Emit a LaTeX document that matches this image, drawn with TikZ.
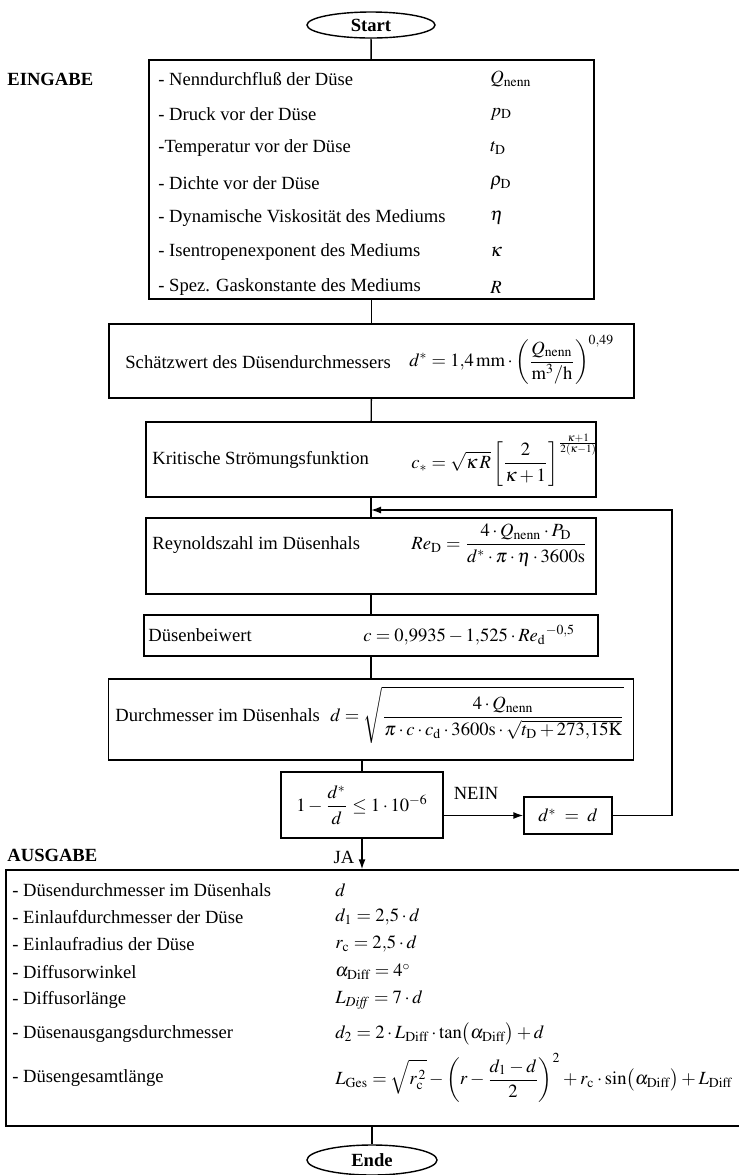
\documentclass[tikz,border=0pt]{standalone}
\usepackage{amsmath}
\usepackage{mathptmx}
\usepackage{fontspec}
\setmainfont{Liberation Serif}
\usetikzlibrary{shapes.geometric,arrows.meta}
\medmuskip=2.5mu plus 1mu minus 1mu
\thickmuskip=4mu plus 2mu

\begin{document}
\begin{tikzpicture}[x=0.5pt,y=-0.5pt,
    every node/.style={font=\fontsize{9.3}{11}\selectfont},
    box/.style={draw,line width=0.7pt,inner sep=0pt},
    term/.style={draw,ellipse,line width=0.7pt,inner sep=0pt,font=\fontsize{9.3}{11}\selectfont\bfseries},
    txt/.style={anchor=west,inner sep=0pt},
    link/.style={line width=0.7pt},
    tip/.style={-{Latex[length=5pt,width=3.5pt]}}]
  \useasboundingbox (0,0) rectangle (739,1175);

  \node[term,minimum width=64pt,minimum height=13pt] at (371,25) (start) {Start};

  % Eingabe
  \node[txt,font=\fontsize{9.3}{11}\selectfont\bfseries] at (7,79) (eingabe) {EINGABE};
  \node[box,minimum width=222.5pt,minimum height=119.5pt] at (371.5,179.5) (ein) {};
  \node[txt] at (158,79) (e1) {- Nenndurchfluß der Düse};
  \node[txt] at (158,114) (e2) {- Druck vor der Düse};
  \node[txt] at (158,148) (e3) {-Temperatur vor der Düse};
  \node[txt] at (158,183) (e4) {- Dichte vor der Düse};
  \node[txt] at (158,218) (e5) {- Dynamische Viskosität des Mediums};
  \node[txt] at (158,252) (e6) {- Isentropenexponent des Mediums};
  \node[txt] at (158,287) (e7) {- Spez. Gaskonstante des Mediums};
  \node[txt] at (490,79) (q1) {$Q_{\mathrm{nenn}}$};
  \node[txt] at (490,114) (q2) {$p_{\mathrm{D}}$};
  \node[txt] at (490,148) (q3) {$t_{\mathrm{D}}$};
  \node[txt] at (490,183) (q4) {$\rho_{\mathrm{D}}$};
  \node[txt] at (490,218) (q5) {$\eta$};
  \node[txt] at (490,252) (q6) {$\kappa$};
  \node[txt] at (490,287) (q7) {$R$};

  % Rechenschritte
  \node[box,minimum width=262.5pt,minimum height=37pt] at (371.5,361) (schaetz) {};
  \node[txt] at (125,362) {Schätzwert des Düsendurchmessers};
  \node[txt] at (409,360) {$d^{*} = 1{,}4\,\mathrm{mm}\cdot\left(\dfrac{Q_{\mathrm{nenn}}}{\mathrm{m^{3}/h}}\right)^{0{,}49}$};

  \node[box,minimum width=225pt,minimum height=37.5pt] at (371,459.5) (krit) {};
  \node[txt] at (152,460) {Kritische Strömungsfunktion};
  \node[txt] at (411,460) {$c_{*} = \sqrt{\kappa\,R}\left[\dfrac{2}{\kappa+1}\right]^{\frac{\kappa+1}{2(\kappa-1)}}$};

  \node[box,minimum width=225pt,minimum height=38pt] at (371,556) (rey) {};
  \node[txt] at (152,545) {Reynoldszahl im Düsenhals};
  \node[txt] at (411,545) {$\mathit{Re}_{\mathrm{D}} = \dfrac{4\cdot Q_{\mathrm{nenn}}\cdot P_{\mathrm{D}}}{d^{*}\cdot\pi\cdot\eta\cdot 3600\mathrm{s}}$};

  \node[box,minimum width=227pt,minimum height=20.5pt] at (371,635.5) (beiwert) {};
  \node[txt] at (148,635) {Düsenbeiwert};
  \node[txt] at (363,635) {$c = 0{,}9935 - 1{,}525\cdot {\mathit{Re}_{\mathrm{d}}}^{-0{,}5}$};

  \node[box,minimum width=262.5pt,minimum height=40.5pt] at (371,719.5) (durch) {};
  \node[txt] at (115,715) {Durchmesser im Düsenhals};
  \node[txt] at (330,715) {$d = \sqrt{\dfrac{4\cdot Q_{\mathrm{nenn}}\rule{0pt}{8pt}}{\pi\cdot c\cdot c_{\mathrm{d}}\cdot 3600\mathrm{s}\cdot\sqrt{t_{\mathrm{D}}+273{,}15\mathrm{K}}}}$};

  % Abfrage
  \node[box,minimum width=81pt,minimum height=33pt] at (362,805) (cond) {$1-\dfrac{d^{*}}{d}\le 1\cdot 10^{-6}$};
  \node[box,minimum width=44pt,minimum height=18.5pt] at (568,815.5) (dstar) {$d^{*}\;=\;d$};
  \node at (476,793) (nein) {NEIN};
  \node at (344,857) (ja) {JA};
  \coordinate (fb) at (672,510);

  % Ausgabe
  \node[txt,font=\fontsize{9.3}{11}\selectfont\bfseries] at (7,855) (ausgabe) {AUSGABE};
  \node[box,minimum width=369.5pt,minimum height=128pt] at (375.5,998) (aus) {};
  \node[txt] at (12,890) (a1) {- Düsendurchmesser im Düsenhals};
  \node[txt] at (12,917) (a2) {- Einlaufdurchmesser der Düse};
  \node[txt] at (12,944) (a3) {- Einlaufradius der Düse};
  \node[txt] at (12,972) (a4) {- Diffusorwinkel};
  \node[txt] at (12,1000) (a5) {- Diffusorlänge};
  \node[txt] at (12,1034) (a6) {- Düsenausgangsdurchmesser};
  \node[txt] at (12,1078) (a7) {- Düsengesamtlänge};
  \node[txt] at (335,890) (f1) {$d$};
  \node[txt] at (335,917) (f2) {$d_{1} = 2{,}5\cdot d$};
  \node[txt] at (335,944) (f3) {$r_{\mathrm{c}} = 2{,}5\cdot d$};
  \node[txt] at (335,972) (f4) {$\alpha_{\mathrm{Diff}} = 4^{\circ}$};
  \node[txt] at (335,1000) (f5) {$L_{\mathit{Diff}} = 7\cdot d$};
  \node[txt] at (335,1034) (f6) {$d_{2} = 2\cdot L_{\mathrm{Diff}}\cdot\tan\bigl(\alpha_{\mathrm{Diff}}\bigr) + d$};
  \node[txt] at (335,1078) (f7) {$L_{\mathrm{Ges}} = \sqrt{r_{\mathrm{c}}^{\,2}\rule{0pt}{9pt}} - \left(r-\dfrac{d_{1}-d}{2}\right)^{2} + r_{\mathrm{c}}\cdot\sin\bigl(\alpha_{\mathrm{Diff}}\bigr) + L_{\mathrm{Diff}}$};

  \node[term,minimum width=65pt,minimum height=15pt] at (372,1160) (ende) {Ende};

  % Verbindungen
  \draw[link] (start) -- (ein);
  \draw[link] (ein) -- (schaetz);
  \draw[link] (schaetz) -- (krit);
  \draw[link] (krit) -- (rey);
  \draw[link] (rey) -- (beiwert);
  \draw[link] (beiwert) -- (durch);
  \draw[link] (cond.north |- durch.south) -- (cond.north);
  \draw[link,tip] (cond.east |- dstar.west) -- (dstar.west);
  \draw[link,tip] (dstar.east) -| (fb) -- (fb -| krit.south);
  \draw[link,tip] (cond.south) -- (cond.south |- aus.north);
  \draw[link] (ende.north |- aus.south) -- (ende.north);
\end{tikzpicture}
\end{document}
